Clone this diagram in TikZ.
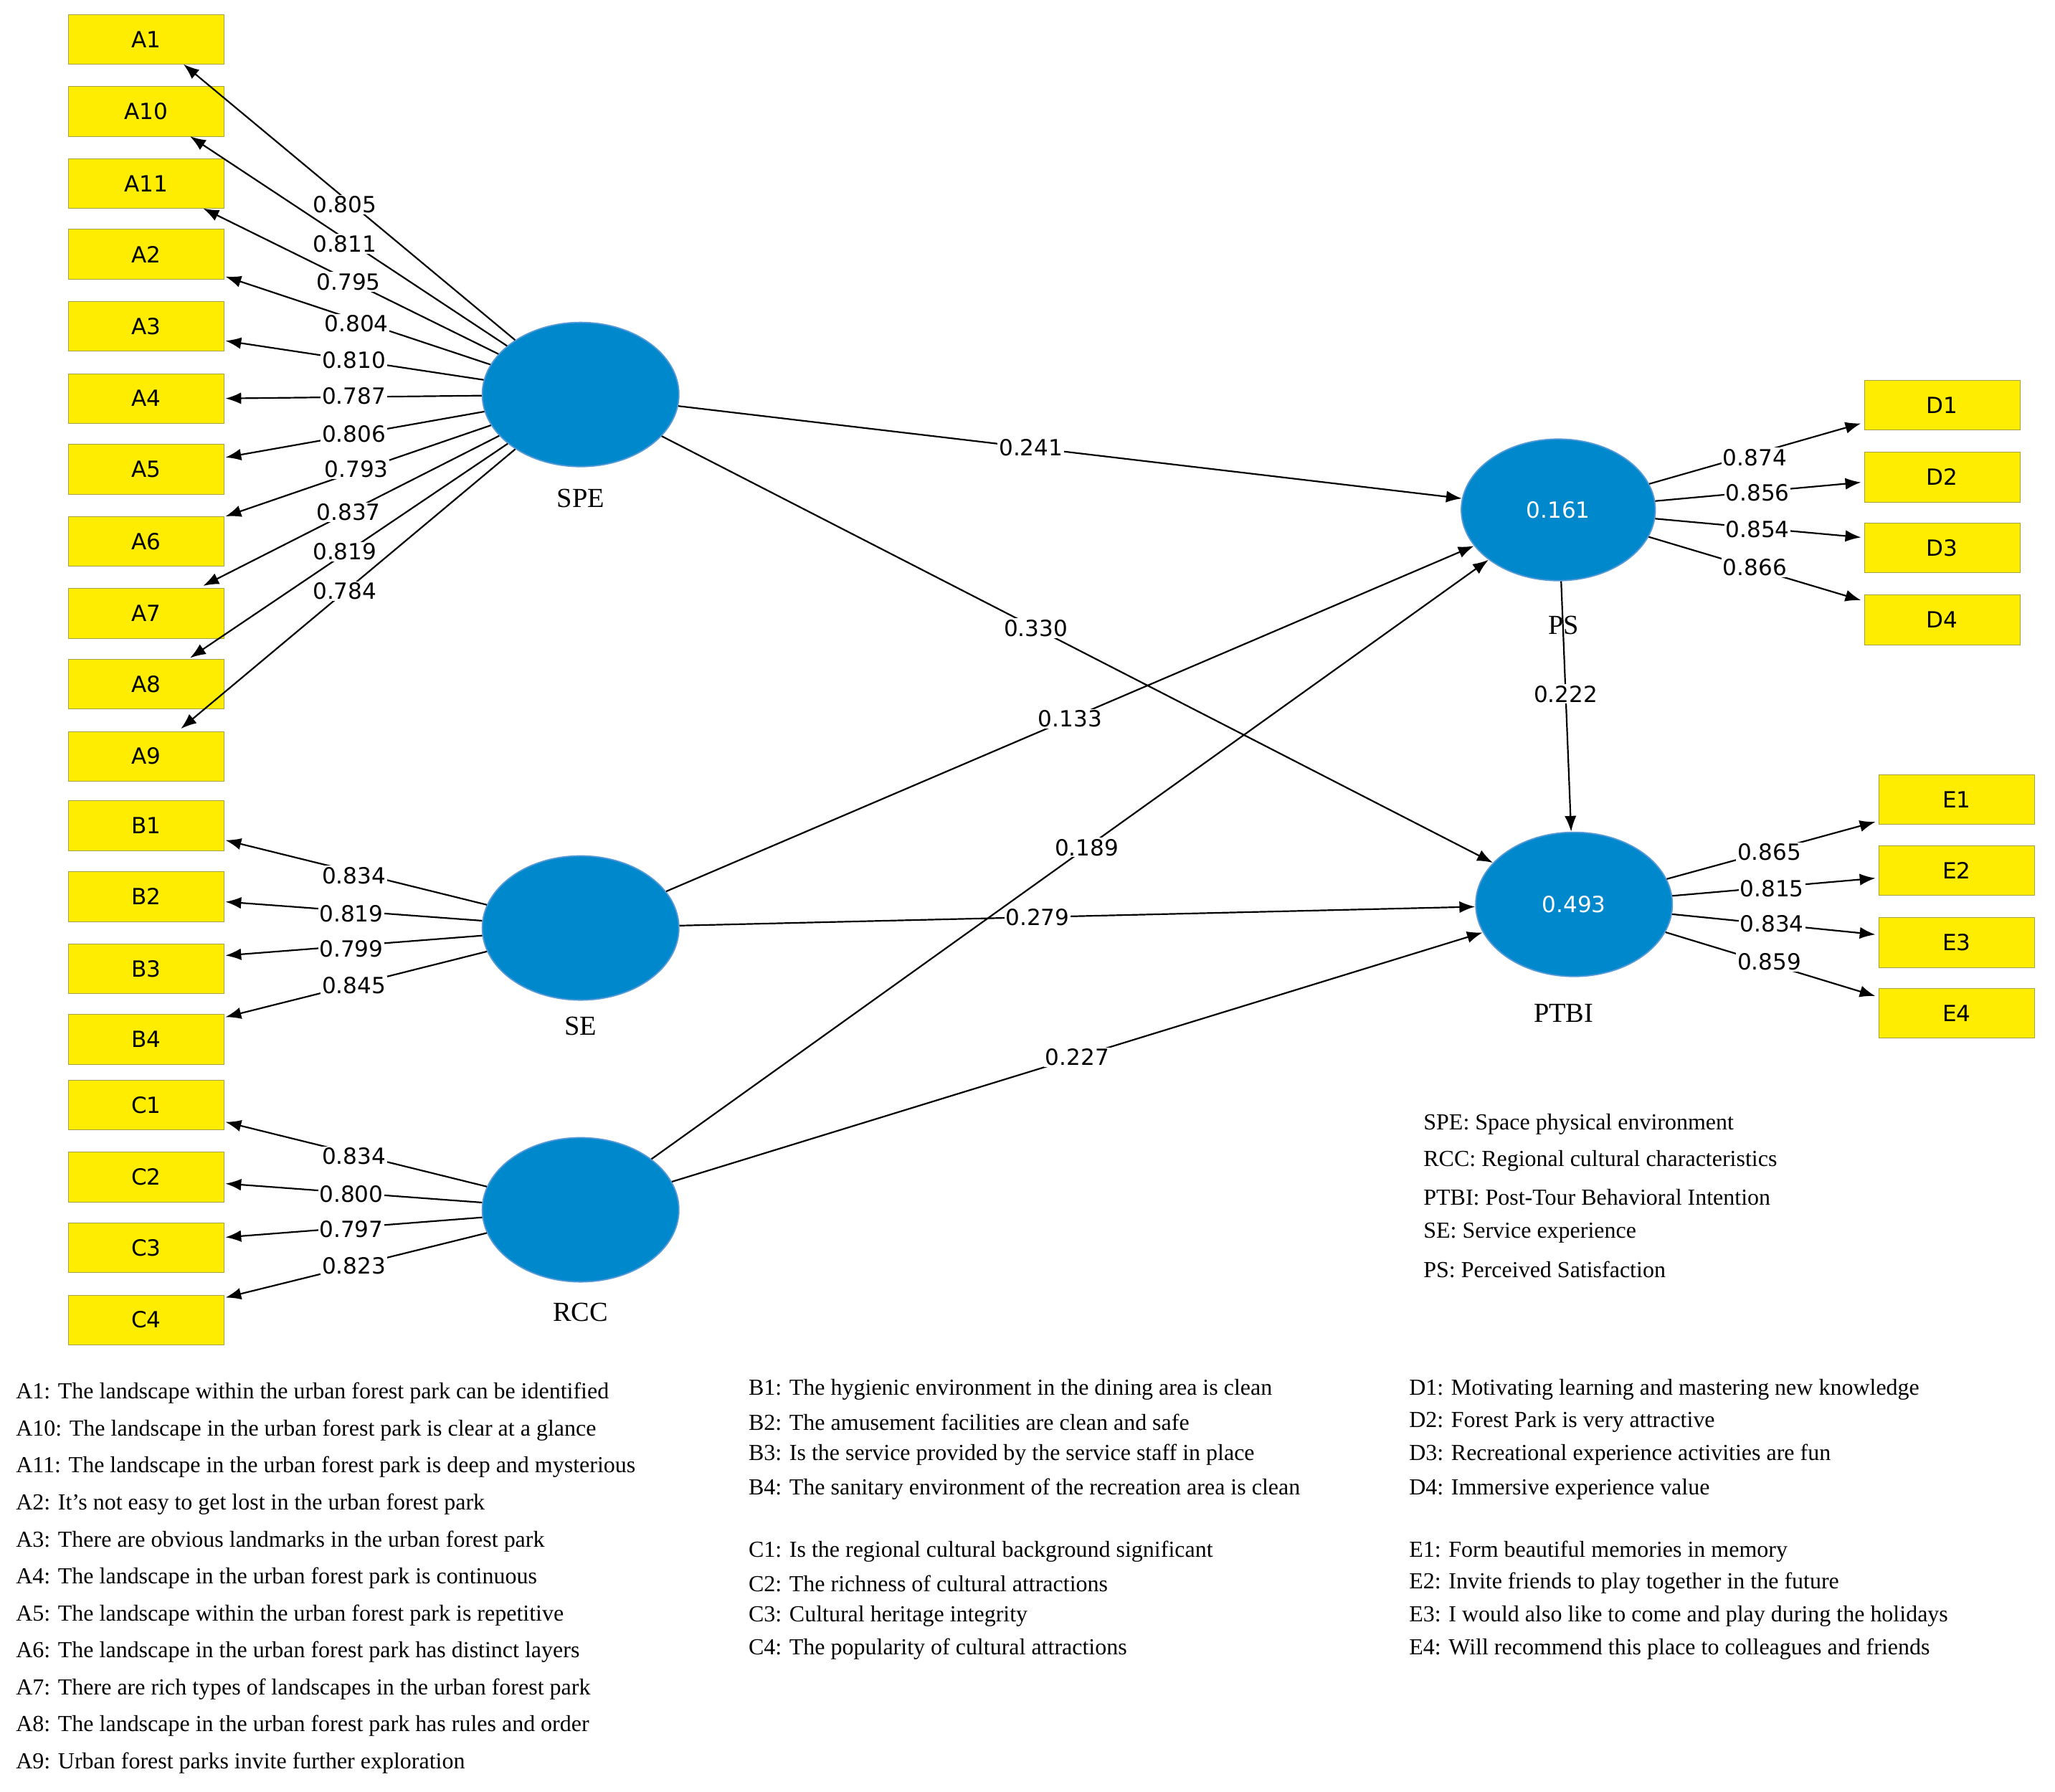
\documentclass[tikz,border=0pt]{standalone}
\usepackage{fontspec}
\setmainfont{Liberation Serif}
\newfontfamily\numf{DejaVu Sans}
\usetikzlibrary{shapes.geometric,arrows.meta}
\begin{document}
\begin{tikzpicture}[x=1pt,y=-1pt,
 box/.style={draw=yellow!60!black,fill=yellow!95!orange,minimum width=119pt,minimum height=38pt,inner sep=0,font=\numf\fontsize{17}{20}\selectfont},
 lv/.style={ellipse,draw=cyan!60!blue!70,line width=1pt,fill=cyan!50!blue!80!black!100,fill=ellfill,minimum width=150pt,minimum height=110pt,inner sep=0,text=white,font=\numf\fontsize{17}{20}\selectfont},
 arr/.style={-{Latex[length=12pt,width=9pt]},line width=1.2pt},
 num/.style={fill=white,inner sep=1pt,font=\numf\fontsize{17}{20}\selectfont},
 nm/.style={font=\fontsize{21}{24}\selectfont},
 txt/.style={anchor=west,inner sep=0,font=\fontsize{17.5}{20}\selectfont}]
\definecolor{ellfill}{HTML}{0088CC}
\useasboundingbox (0,0) rectangle (1568,1367);
% boxes
\foreach \n/\y in {A1/30,A10/85,A11/140,A2/194,A3/249,A4/304,A5/358,A6/413,A7/468,A8/522,A9/577,B1/630,B2/684,B3/739,B4/793,C1/843,C2/898,C3/952,C4/1007}
  \node[box] (\n) at (111.5,\y) {\n};
\foreach \n/\y in {D1/309,D2/364,D3/418,D4/473}
  \node[box] (\n) at (1482,\y) {\n};
\foreach \n/\y in {E1/610,E2/664,E3/719,E4/773}
  \node[box] (\n) at (1493,\y) {\n};
% latent
\node[lv] (SPE) at (443,301) {};
\node[lv] (SE) at (443,708) {};
\node[lv] (RCC) at (443,923) {};
\node[lv,minimum width=148pt,minimum height=108pt] (PS) at (1189,389) {0.161};
\node[lv] (PTBI) at (1201,690) {0.493};
\node[nm] (lSPE) at (443,380) {SPE};
\node[nm] (lSE) at (443,783) {SE};
\node[nm] (lRCC) at (443,1001) {RCC};
\node[nm] (lPS) at (1193,477) {PS};
\node[nm] (lPTBI) at (1193,773) {PTBI};
% outer arrows
\foreach \t/\ex/\ey/\lx/\ly/\v in {A1/140/49/263/156/0.805,A10/145/104/263/186/0.811,A11/155/159/266/215/0.795,A2/172/211/272/247/0.804,A3/172/260/270/275/0.810,A4/172/304/270/302/0.787,A5/172/349/270/331/0.806,A6/172/394/272/358/0.793,A7/155/447/266/391/0.837,A8/145/502/263/421/0.819,A9/138/556/263/451/0.784}{
  \coordinate (e\t) at (\ex,\ey);
  \draw[arr] (SPE) -- (e\t);
  \node[num] (n\t) at (\lx,\ly) {\v};}
\foreach \t/\ex/\ey/\lx/\ly/\v in {B1/172/641/270/668/0.834,B2/172/688/268/697/0.819,B3/172/729/268/724/0.799,B4/172/776/270/752/0.845}{
  \coordinate (e\t) at (\ex,\ey);
  \draw[arr] (SE) -- (e\t);
  \node[num] (n\t) at (\lx,\ly) {\v};}
\foreach \t/\ex/\ey/\lx/\ly/\v in {C1/172/856/270/882/0.834,C2/172/903/268/911/0.800,C3/172/944/268/938/0.797,C4/172/990/270/966/0.823}{
  \coordinate (e\t) at (\ex,\ey);
  \draw[arr] (RCC) -- (e\t);
  \node[num] (n\t) at (\lx,\ly) {\v};}
\foreach \t/\ex/\ey/\lx/\ly/\v in {D1/1420/323/1339/349/0.874,D2/1420/368/1341/376/0.856,D3/1420/410/1341/404/0.854,D4/1420/458/1339/433/0.866}{
  \coordinate (e\t) at (\ex,\ey);
  \draw[arr] (PS) -- (e\t);
  \node[num] (n\t) at (\lx,\ly) {\v};}
\foreach \t/\ex/\ey/\lx/\ly/\v in {E1/1431/627/1350/650/0.865,E2/1431/670/1352/678/0.815,E3/1431/713/1352/705/0.834,E4/1431/760/1350/734/0.859}{
  \coordinate (e\t) at (\ex,\ey);
  \draw[arr] (PTBI) -- (e\t);
  \node[num] (n\t) at (\lx,\ly) {\v};}
% structural
\draw[arr] (SPE) -- (PS) node[num,pos=0.45] {0.241};
\draw[arr] (SPE) -- (PTBI) node[num,pos=0.45] {0.330};
\draw[arr] (SE) -- (PS) node[num,pos=0.5] {0.133};
\draw[arr] (RCC) -- (PS) node[num,pos=0.52] {0.189};
\draw[arr] (SE) -- (PTBI) node[num,pos=0.45] {0.279};
\draw[arr] (RCC) -- (PTBI) node[num,pos=0.5] {0.227};
\draw[arr] (PS) -- (PTBI) node[num,pos=0.45] {0.222};
% legend
\foreach \s [count=\i from 0] in {SPE: Space physical environment,RCC: Regional cultural characteristics,PTBI: Post-Tour Behavioral Intention,SE: Service experience,PS: Perceived Satisfaction}
  \node[txt] (lg\i) at (1086,858+27.6*\i) {\s};
\foreach \s [count=\i from 0] in {A1: The landscape within the urban forest park can be identified,A10: The landscape in the urban forest park is clear at a glance,A11: The landscape in the urban forest park is deep and mysterious,A2: It’s not easy to get lost in the urban forest park,A3: There are obvious landmarks in the urban forest park,A4: The landscape in the urban forest park is continuous,A5: The landscape within the urban forest park is repetitive,A6: The landscape in the urban forest park has distinct layers,A7: There are rich types of landscapes in the urban forest park,A8: The landscape in the urban forest park has rules and order,A9: Urban forest parks invite further exploration}
  \node[txt] (ta\i) at (12,1063+28.2*\i) {\s};
\foreach \s/\y [count=\i] in {B1: The hygienic environment in the dining area is clean/1060,B2: The amusement facilities are clean and safe/1085,B3: Is the service provided by the service staff in place/1110,B4: The sanitary environment of the recreation area is clean/1136,C1: Is the regional cultural background significant/1184,C2: The richness of cultural attractions/1208,C3: Cultural heritage integrity/1233,C4: The popularity of cultural attractions/1258}
  \node[txt] (tb\i) at (571,\y) {\s};
\foreach \s/\y [count=\i] in {D1: Motivating learning and mastering new knowledge/1060,D2: Forest Park is very attractive/1085,D3: Recreational experience activities are fun/1110,D4: Immersive experience value/1136,E1: Form beautiful memories in memory/1184,E2: Invite friends to play together in the future/1208,E3: I would also like to come and play during the holidays/1233,E4: Will recommend this place to colleagues and friends/1258}
  \node[txt] (td\i) at (1075,\y) {\s};
\end{tikzpicture}
\end{document}
